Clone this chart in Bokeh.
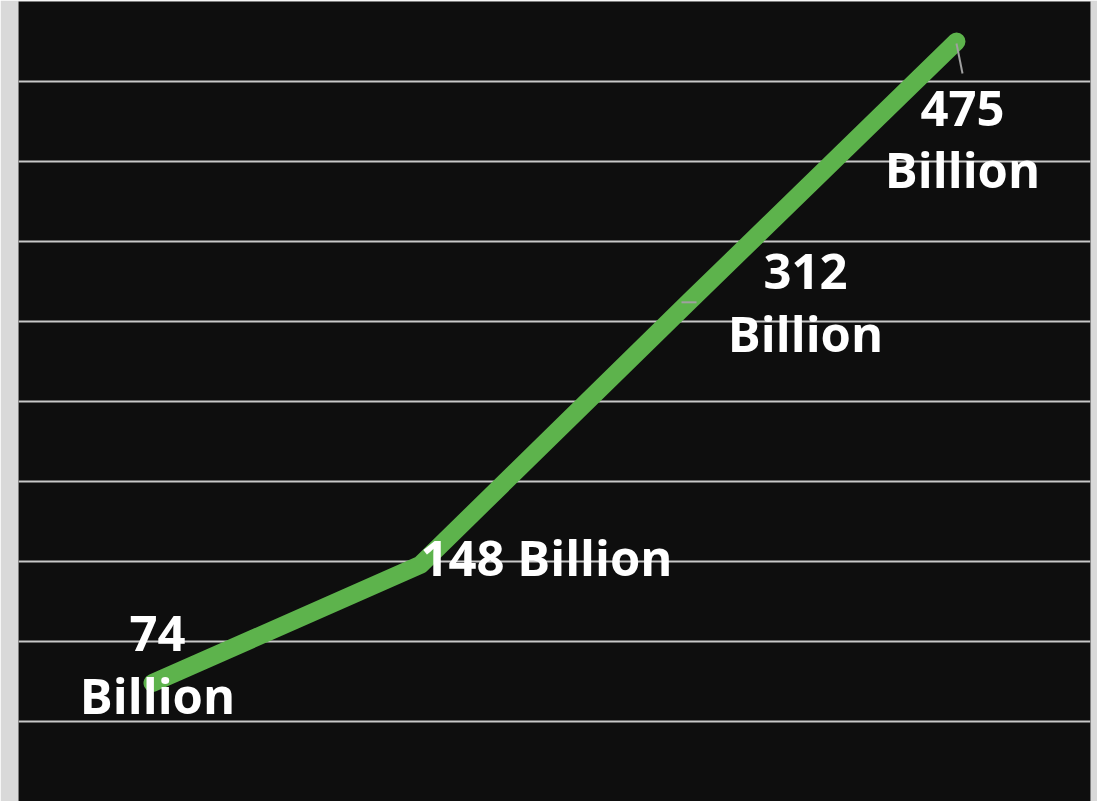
from bokeh.plotting import figure
from bokeh.models import Range1d, FixedTicker
from bokeh.core.properties import value
from bokeh.embed import file_html
from bokeh.resources import INLINE

# data
positions = [0, 1, 2, 3]
values = [74, 148, 312, 475]
numbers = ["74", "148", "312", "475"]

p = figure(width=1097, height=801, output_backend="svg", toolbar_location=None,
           x_range=Range1d(-0.5, 3.5), y_range=Range1d(0, 500),
           min_border_left=18, min_border_right=7, min_border_top=1, min_border_bottom=0,
           background_fill_color="#0e0e0e", border_fill_color="#d9d9d9")
p.outline_line_color = None
p.xaxis.visible = False
p.yaxis.visible = False
p.xgrid.visible = False
p.ygrid.ticker = FixedTicker(ticks=[50, 100, 150, 200, 250, 300, 350, 400, 450, 500])
p.ygrid.grid_line_color = "#c8c8c8"
p.ygrid.grid_line_width = 2

p.line(positions, values, line_color="#5db34c", line_width=18, line_cap="round", line_join="round")

# leader lines (scaled from data points)
xs_unit = 1 / 268.0
ys_unit = 1 / 1.6
p.segment(x0=[positions[3], positions[2] - 7 * xs_unit], y0=[values[3] - 2 * ys_unit, values[2]],
          x1=[positions[3] + 6 * xs_unit, positions[2] + 8 * xs_unit], y1=[values[3] - 32 * ys_unit, values[2]],
          line_color="#a0a0a0", line_width=2)

font = value("Open Sans")
common = dict(text_color="white", text_font=font, text_font_style="bold",
              text_font_size="49px", text_baseline="alphabetic")
d = -20

# label 74
p.text(x=[positions[0]], y=[values[0]], text=[numbers[0]], x_offset=5, y_offset=-30 + d, text_align="center", **common)
p.text(x=[positions[0]], y=[values[0]], text=["Billion"], x_offset=5, y_offset=32 + d, text_align="center", **common)
# label 148
p.text(x=[positions[1]], y=[values[1]], text=[numbers[1] + " Billion"], x_offset=0, y_offset=12 + d, text_align="left", **common)
# label 312
p.text(x=[positions[2]], y=[values[2]], text=[numbers[2]], x_offset=117, y_offset=-11 + d, text_align="center", **common)
p.text(x=[positions[2]], y=[values[2]], text=["Billion"], x_offset=117, y_offset=51 + d, text_align="center", **common)
# label 475
p.text(x=[positions[3]], y=[values[3]], text=[numbers[3]], x_offset=6, y_offset=87 + d, text_align="center", **common)
p.text(x=[positions[3]], y=[values[3]], text=["Billion"], x_offset=6, y_offset=147 + d, text_align="center", **common)

open("out.html", "w").write(file_html(p, INLINE))
